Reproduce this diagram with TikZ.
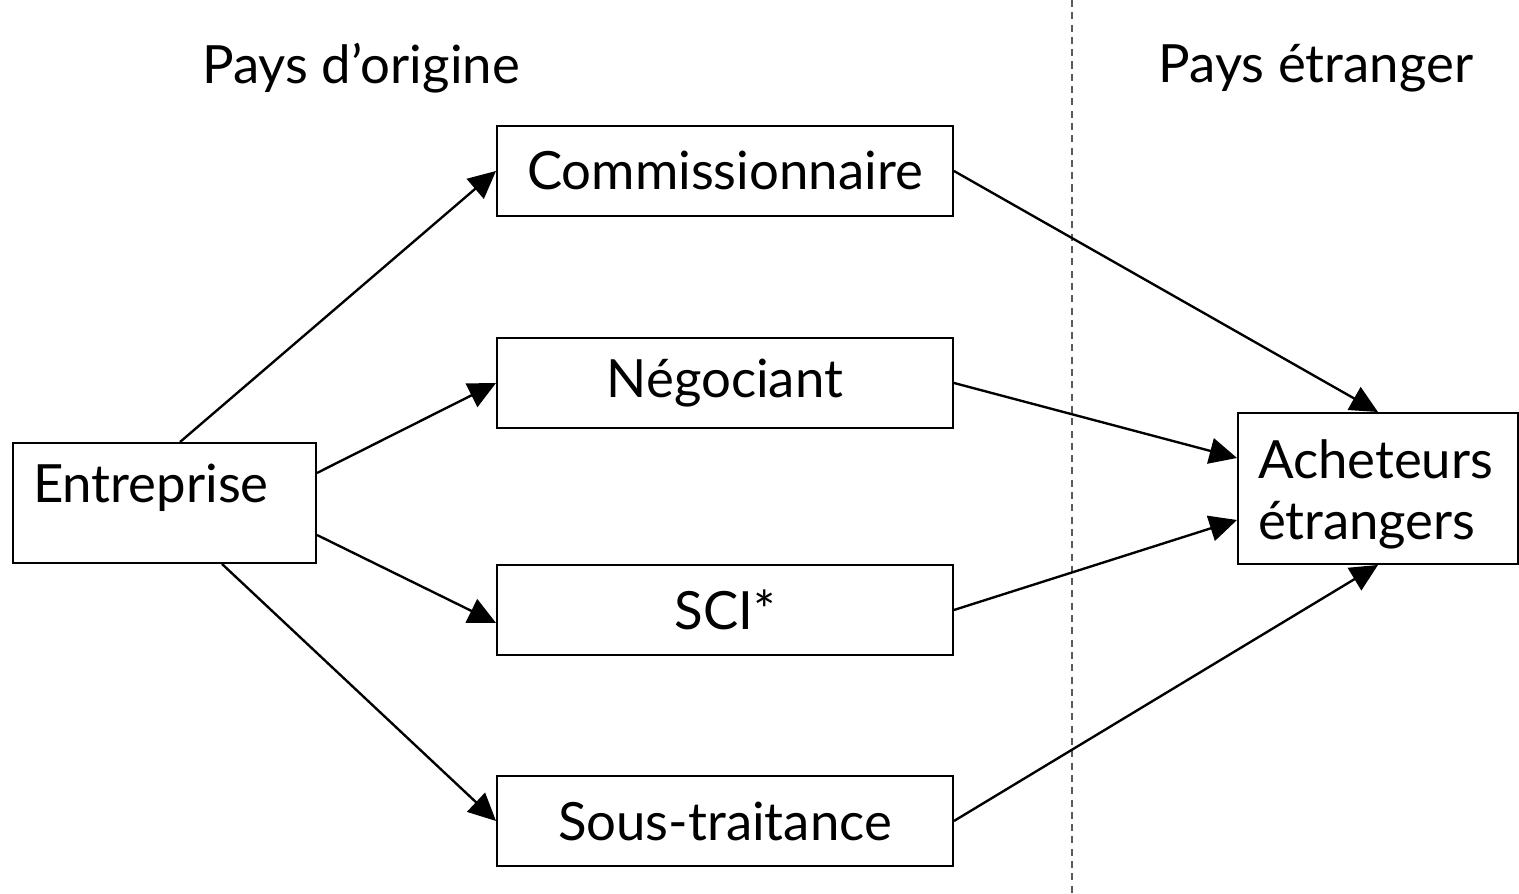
\documentclass[tikz,border=0pt]{standalone}
\usepackage{fontspec}
\setmainfont{Lato}
\usetikzlibrary{arrows.meta}
\tikzstyle{channel} = [rectangle, line width=1.1pt, minimum width=9.12cm, minimum height=1.8cm, text centered, draw=black]
\tikzstyle{party} = [rectangle, line width=1.1pt, align=left, inner xsep=0.4cm, draw=black]
\tikzstyle{arrow} = [line width=1.35pt, -{Triangle[length=0.55cm, width=0.52cm]}]

\begin{document}
\begin{tikzpicture}[font=\fontsize{30}{35}\selectfont]
\useasboundingbox (0,0) rectangle (30.38,17.88);

\node (orig) at (7.22,16.52) {Pays d’origine};
\node (etr) at (26.32,16.52) {Pays étranger};

\node (ent) [party, text width=5.26cm, minimum height=2.4cm, text height=0.8cm, text depth=0.8cm] at (3.29,7.82) {Entreprise};
\node (com) [channel] at (14.5,14.46) {Commissionnaire};
\node (neg) [channel] at (14.5,10.22) {Négociant};
\node (sci) [channel] at (14.5,5.68) {SCI*};
\node (sou) [channel] at (14.5,1.46) {Sous-traitance};
\node (ach) [party, text width=4.8cm, minimum height=3.02cm, text height=0.8cm, text depth=1.2cm] at (27.56,8.11) {Acheteurs\\étrangers};

\coordinate (top) at (21.44,17.88);
\coordinate (bot) at (21.44,0);
\draw [black!65, line width=0.6pt, dash pattern=on 4pt off 3pt] (top) -- (bot);

\draw [arrow] ([xshift=0.31cm]ent.north) -- (com.west);
\draw [arrow] ([yshift=0.6cm]ent.east) -- (neg.west);
\draw [arrow] ([yshift=-0.64cm]ent.east) -- ([yshift=-0.26cm]sci.west);
\draw [arrow] ([xshift=1.15cm]ent.south) -- (sou.west);

\draw [arrow] (com.east) -- (ach.north);
\draw [arrow] (neg.east) -- ([yshift=0.61cm]ach.west);
\draw [arrow] (sci.east) -- ([yshift=-0.63cm]ach.west);
\draw [arrow] (sou.east) -- (ach.south);

\end{tikzpicture}
\end{document}
